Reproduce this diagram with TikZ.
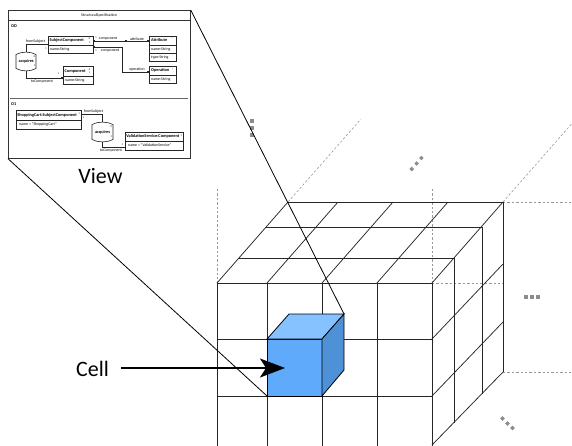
\documentclass[tikz,border=0pt]{standalone}
\usepackage{fontspec}
\setmainfont{Carlito}
\usetikzlibrary{arrows.meta,calc}
\definecolor{cubefront}{RGB}{95,170,250}
\definecolor{cubetop}{RGB}{133,194,255}
\definecolor{cuberight}{RGB}{78,145,215}
\begin{document}
\begin{tikzpicture}[x=1pt,y=-1pt,
  gridl/.style={line width=0.75pt, draw=black!85},
  ext/.style={draw=black!40, line width=0.6pt, dash pattern=on 2.4pt off 2pt},
  gdot/.style={fill=black!45, draw=none, minimum size=3.3pt, inner sep=0pt, rectangle},
  tinyt/.style={font=\fontsize{3.9}{4.2}\selectfont, inner sep=0pt},
  microt/.style={font=\fontsize{2.6}{3}\selectfont, inner sep=0pt},
  bname/.style={font=\fontsize{4.3}{4.6}\selectfont\bfseries, inner sep=0pt},
  umlbox/.style={draw=black!85, line width=0.6pt, anchor=north west, inner sep=0pt},
  assoc/.style={draw=black!85, line width=0.7pt},
  sqmark/.style={fill=black!85, draw=none, minimum size=1.8pt, inner sep=0pt, rectangle},
  big/.style={font=\fontsize{22}{26}\selectfont, inner sep=0pt},
  cubeedge/.style={draw=black, line width=0.8pt},
]
\useasboundingbox (0,0) rectangle (572,445);
\clip (0,0) rectangle (572,445);

% ---------- extension (dashed) lines ----------
\draw[ext] (217,189) -- (217,283);
\draw[ext] (432,189) -- (432,283);
\draw[ext] (432,283) -- (503,283);
\draw[ext] (288,202) -- (361,119);
\draw[ext] (503,202) -- (582,112);
\draw[ext] (503,202) -- (572,202);
\draw[ext] (503,372) -- (572,372);

% ---------- dots ----------
\node[gdot] (d1) at (252,121) {};
\node[gdot] (d2) at (252,128) {};
\node[gdot] (d3) at (252,135) {};
\node[gdot, rotate=45] (d4) at (411.8,169) {};
\node[gdot, rotate=45] (d5) at (416.6,163.5) {};
\node[gdot, rotate=45] (d6) at (421.4,158) {};
\node[gdot] (d7) at (526,297) {};
\node[gdot] (d8) at (532,297) {};
\node[gdot] (d9) at (538,297) {};
\node[gdot, rotate=45] (d10) at (502.5,418.5) {};
\node[gdot, rotate=45] (d11) at (507.5,423.5) {};
\node[gdot, rotate=45] (d12) at (512.5,428) {};

% ---------- grid: top face ----------
\draw[gridl] (217,283) -- (432,283);
\draw[gridl] (239,258) -- (454,258);
\draw[gridl] (266,227) -- (482,227);
\draw[gridl] (288,202) -- (503,202);
\foreach \x in {217,267,322,377,432} \draw[gridl] (\x,283) -- ++(71,-81);
% front face
\foreach \x in {217,267,322,377,432} \draw[gridl] (\x,283) -- (\x,446);
\draw[gridl] (217,339) -- (432,339);
\draw[gridl] (217,396) -- (432,396);
% right face
\draw[gridl] (432,339) -- (503,264);
\draw[gridl] (432,396) -- (503,322);
\draw[gridl] (432,445) -- (503,372);
\draw[gridl] (454,258) -- (454,423);
\draw[gridl] (482,227) -- (482,394);
\draw[gridl] (503,202) -- (503,372);

% ---------- blue cell ----------
\coordinate (bFTL) at (267,339);
\coordinate (bFTR) at (322,339);
\coordinate (bFBR) at (322,396);
\coordinate (bFBL) at (267,396);
\coordinate (bBTL) at (289,314);
\coordinate (bBTR) at (344,314);
\coordinate (bBBR) at (344,370);
\filldraw[fill=cubefront, cubeedge] (bFTL) -- (bFTR) -- (bFBR) -- (bFBL) -- cycle;
\filldraw[fill=cubetop, cubeedge] (bFTL) -- (bFTR) -- (bBTR) -- (bBTL) -- cycle;
\filldraw[fill=cuberight, cubeedge] (bFTR) -- (bBTR) -- (bBBR) -- (bFBR) -- cycle;

% ---------- view panel ----------
\node[draw=black!80, line width=0.7pt, anchor=north west, minimum width=182pt,
      minimum height=148pt, inner sep=0pt, fill=white] (panel) at (8,10) {};
\draw[black!80, line width=0.6pt] (8,20.5) -- (190,20.5);
\node[tinyt] (ptitle) at (99,15.3) {StructuralSpecification};
\draw[black!60, line width=1.6pt] (10,98.5) -- (188,98.5);
\node[bname, anchor=west] (odl) at (11,26.5) {OD};
\node[bname, anchor=west] (o1l) at (11,104.5) {O1};

% OD classes
\node[umlbox, minimum width=45pt, minimum height=17pt] (subj) at (48,36) {};
\draw[umlbox] (48,45) -- (93,45);
\node[bname, anchor=west] (subjn) at (49.5,40.5) {SubjectComponent};
\node[microt] (subjm1) at (89.5,38.8) {0};
\node[microt] (subjm2) at (89.5,42.3) {1};
\node[tinyt, anchor=west] (subja) at (50,49.2) {name:String};

\node[umlbox, minimum width=29.5pt, minimum height=18pt] (comp) at (63,66) {};
\draw[umlbox] (63,76) -- (92.5,76);
\node[bname, anchor=west] (compn) at (64.5,71) {Component};
\node[microt] (compm1) at (89.5,69.3) {0};
\node[microt] (compm2) at (89.5,72.8) {1};
\node[tinyt, anchor=west] (compa) at (65,80.2) {name:String};

\node[umlbox, minimum width=27pt, minimum height=25pt] (attr) at (149,36) {};
\draw[umlbox] (149,45) -- (176,45);
\draw[umlbox] (149,53) -- (176,53);
\node[bname, anchor=west] (attrn) at (151,40.5) {Attribute};
\node[microt] (attrm) at (172,38.8) {*};
\node[tinyt, anchor=west] (attra) at (151,49.2) {name:String};
\node[tinyt, anchor=west] (attrb) at (151,57) {type:String};

\node[umlbox, minimum width=27pt, minimum height=17pt] (oper) at (149,66) {};
\draw[umlbox] (149,75.5) -- (176,75.5);
\node[bname, anchor=west] (opern) at (151,70.8) {Operation};
\node[microt] (operm) at (172.5,69.2) {*};
\node[tinyt, anchor=west] (opera) at (151,79.3) {name:String};

% OD association node
\draw[umlbox] (16,54.5) .. controls (22,51.3) and (30,51.3) .. (36,54.5) -- (36,68.5)
      .. controls (30,71.7) and (22,71.7) .. (16,68.5) -- cycle;
\node[bname] (acq) at (26.2,61.5) {acquires};
\coordinate (acqT) at (26.5,52.1);
\coordinate (acqB) at (26.5,71);
\node[microt] (acqm1) at (34.6,56.5) {0};
\node[microt] (acqm2) at (34.6,65.5) {1};

% OD connectors
\draw[assoc] (acqT) |- (subj.west);
\node[tinyt] (l1) at (35.5,41.7) {fromSubject};
\node[microt] (l2) at (46,48.5) {1};
\draw[assoc] (acqB) |- ($(comp.north west)+(0,12)$);
\node[sqmark] (mk1) at (62,78) {};
\node[tinyt] (l3) at (42,81.6) {toComponent};
\node[microt] (l4) at (58.5,73.5) {1};
\draw[assoc] ($(subj.north east)+(0,5)$) -- ($(attr.north west)+(0,5)$);
\node[sqmark] (mk2) at (94,41) {};
\node[sqmark] (mk3) at (126,41) {};
\node[sqmark] (mk4) at (147.8,41) {};
\node[microt] (l5) at (96,37.6) {1};
\node[tinyt] (l6) at (108,38.7) {component};
\node[tinyt] (l7) at (137,38.7) {attribute};
\draw[assoc] ($(subj.north east)+(0,11)$) -- (122.5,47) -- (122.5,72) -- ($(oper.north west)+(0,6)$);
\node[sqmark] (mk5) at (94,47) {};
\node[sqmark] (mk6) at (122.5,72) {};
\node[sqmark] (mk7) at (147.8,72) {};
\node[microt] (l8) at (96,51) {1};
\node[tinyt] (l9) at (110,50.3) {component};
\node[tinyt] (l10) at (137,69.8) {operation};

% O1 objects
\node[umlbox, minimum width=65pt, minimum height=19pt] (cart) at (16,110) {};
\draw[umlbox] (16,120) -- (81,120);
\node[bname, anchor=west] (cartn) at (17.2,115) {ShoppingCart:SubjectComponent};
\node[microt] (cartm) at (79.2,114) {1};
\node[tinyt, anchor=west] (carta) at (19,124.6) {name = "ShoppingCart"};

\node[umlbox, minimum width=58pt, minimum height=18pt] (valid) at (125,132) {};
\draw[umlbox] (125,141) -- (183,141);
\node[bname, anchor=west] (validn) at (126.2,136.5) {ValidationService:Component};
\node[microt] (validm) at (181.2,135.5) {1};
\node[tinyt, anchor=west] (valida) at (128,145.6) {name = "ValidationService"};

\draw[umlbox] (92,124.5) .. controls (98,121.3) and (107,121.3) .. (113,124.5) -- (113,139.5)
      .. controls (107,142.7) and (98,142.7) .. (92,139.5) -- cycle;
\node[bname] (acq2) at (102.5,132) {acquires};
\coordinate (acq2T) at (102.5,122);
\coordinate (acq2B) at (102.5,142);
\node[microt] (acq2m1) at (111.4,127) {0};
\node[microt] (acq2m2) at (111.4,137) {1};

% O1 connectors
\draw[assoc] ($(cart.north east)+(0,4)$) -| (acq2T);
\node[tinyt] (l11) at (93.5,111.8) {fromSubject};
\node[microt] (l12) at (83.5,117.5) {1};
\draw[assoc] (acq2B) |- ($(valid.north west)+(0,15)$);
\node[tinyt] (l13) at (111,150.5) {toComponent};
\node[microt] (l14) at (122.5,144.3) {1};

\node[big] (view) at (100.5,176.5) {View};

% ---------- zoom lines ----------
\draw[line width=0.8pt] (panel.north east) -- (bBTR);
\draw[line width=0.8pt] (panel.south west) -- (bFBL);

% ---------- cell label ----------
\node[big] (cell) at (92.5,369) {Cell};
\coordinate (cellstart) at (121,368);
\coordinate (celltip) at (285,368);
\draw[line width=1.6pt, -{Stealth[length=25pt, width=19pt, inset=6pt]}] (cellstart) -- (celltip);
\end{tikzpicture}
\end{document}
